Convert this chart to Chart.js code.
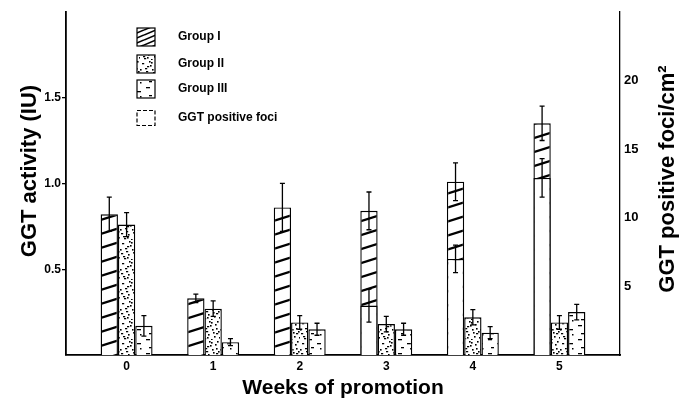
<!DOCTYPE html>
<html>
<head>
<meta charset="utf-8">
<title>GGT activity and GGT positive foci during promotion</title>
<script src="https://cdn.jsdelivr.net/npm/chart.js@4/dist/chart.umd.min.js"></script>
<style>
  html, body { margin: 0; padding: 0; background: #fff; }
  canvas { display: block; }
</style>
</head>
<body>
<canvas id="chart" width="686" height="404"></canvas>
<script>
// Weeks of promotion (x positions of the bar groups)
const weeks = [0, 1, 2, 3, 4, 5];

// GGT activity (IU), mean and error per group
const groupI      = [0.82, 0.33, 0.86, 0.84, 1.01, 1.35];
const groupIErr   = [0.10, 0.025, 0.14, 0.11, 0.11, 0.10];
const groupII     = [0.76, 0.27, 0.19, 0.18, 0.22, 0.19];
const groupIIErr  = [0.07, 0.045, 0.04, 0.045, 0.045, 0.04];
const groupIII    = [0.17, 0.075, 0.15, 0.15, 0.13, 0.25];
const groupIIIErr = [0.06, 0.02, 0.035, 0.035, 0.035, 0.045];

// GGT positive foci per cm2 (right axis)
const foci    = [null, null, null, 3.6, 7.0, 12.9];
const fociErr = [null, null, null, 1.2, 1.0, 1.4];

// Axis ticks and texts
const activityTicks = [0.5, 1.0, 1.5];
const fociTicks = [5, 10, 15, 20];
const legendLabels = ['Group I', 'Group II', 'Group III', 'GGT positive foci'];
const titleLeft = 'GGT activity (IU)';
const titleRight = 'GGT positive foci/cm\u00B2';
const titleBottom = 'Weeks of promotion';

const FONT = '"Liberation Sans", Arial, Helvetica, sans-serif';
const canvas = document.getElementById('chart');
const ctx = canvas.getContext('2d');

// ---- fill textures for the bars ----
function tile(w, h, paint) {
  const c = document.createElement('canvas');
  c.width = w; c.height = h;
  const g = c.getContext('2d');
  g.fillStyle = '#fff';
  g.fillRect(0, 0, w, h);
  g.fillStyle = '#000';
  g.strokeStyle = '#000';
  paint(g, w, h);
  return ctx.createPattern(c, 'repeat');
}

// diagonal hatching rising to the right
function hatchTile(w, h, lw) {
  return tile(w, h, (g) => {
    g.lineWidth = lw;
    for (const dy of [-h, 0, h]) {
      g.beginPath();
      g.moveTo(0, h + dy);
      g.lineTo(w, dy);
      g.stroke();
    }
  });
}
const hatch = hatchTile(44, 14, 2.2);
const hatchSmall = hatchTile(12, 5, 1.6);

// stipple of small dots
const stippleDots = [[2,3],[9,1],[15,4],[5,8],[12,9],[18,11],[1,13],[8,14],[14,16],[4,18],
                     [11,19],[17,1],[6,11],[16,8],[10,5],[3,16],[13,12],[19,17],[7,6],[0,9],
                     [7,17],[16,13],[11,2]];
const stipple = tile(20, 20, (g) => {
  stippleDots.forEach(([x, y], k) => {
    if (k % 3 === 0) g.fillRect(x, y, 2.2, 1.3);
    else g.fillRect(x, y, 1.6, 1.6);
  });
});

// sparse short dashes
const dashes = tile(18, 14, (g) => {
  g.fillRect(2, 3, 4, 1.3);
  g.fillRect(11, 7, 4, 1.3);
  g.fillRect(5, 11, 3, 1.3);
  g.fillRect(14, 12, 1.5, 1.5);
});

const toPoints = (vals) => weeks.map((w, i) => ({ x: w, y: vals[i] }));

// ---- error bars, legend and vertical axis titles ----
const extras = {
  id: 'extras',
  afterDatasetsDraw(chart) {
    const c = chart.ctx;
    c.save();
    c.strokeStyle = '#000';
    c.lineWidth = 1.3;
    chart.data.datasets.forEach((ds, di) => {
      const meta = chart.getDatasetMeta(di);
      const ys = chart.scales[ds.yAxisID];
      meta.data.forEach((bar, i) => {
        const v = ds.data[i].y, e = ds.errors[i];
        if (v == null || e == null) return;
        const top = ys.getPixelForValue(v + e);
        const bot = ys.getPixelForValue(v - e);
        c.beginPath();
        c.moveTo(bar.x, top); c.lineTo(bar.x, bot);
        c.moveTo(bar.x - 2.5, top); c.lineTo(bar.x + 2.5, top);
        c.moveTo(bar.x - 2.5, bot); c.lineTo(bar.x + 2.5, bot);
        c.stroke();
      });
    });
    c.restore();
  },
  afterDraw(chart) {
    const c = chart.ctx;
    c.save();
    // legend
    const fills = [hatchSmall, stipple, dashes, '#fff'];
    const rows = [37, 64, 89, 118];
    rows.forEach((y, k) => {
      const bx = 137, size = k === 3 ? 15 : 18;
      const by = y - size / 2;
      c.fillStyle = fills[k];
      c.fillRect(bx, by, 18, size);
      c.strokeStyle = '#000';
      c.lineWidth = 1.2;
      c.setLineDash(k === 3 ? [4, 2] : []);
      c.strokeRect(bx, by, 18, size);
      c.setLineDash([]);
      c.fillStyle = '#000';
      c.font = 'bold 12px ' + FONT;
      c.textAlign = 'left';
      c.textBaseline = 'middle';
      c.fillText(legendLabels[k], 178, y);
    });
    // vertical axis titles, both reading upward
    c.font = 'bold 22px ' + FONT;
    c.textAlign = 'center';
    c.textBaseline = 'middle';
    [[30, 171, titleLeft], [668, 179, titleRight]].forEach(([x, y, t]) => {
      c.save();
      c.translate(x, y);
      c.rotate(-Math.PI / 2);
      c.fillText(t, 0, 0);
      c.restore();
    });
    c.restore();
  }
};

const barStyle = { borderColor: '#000', borderWidth: 1.4 };

new Chart(ctx, {
  type: 'bar',
  data: {
    datasets: [
      { label: legendLabels[3], data: toPoints(foci), errors: fociErr, yAxisID: 'y2',
        stack: 'g1', order: 0, backgroundColor: '#fff', ...barStyle },
      { label: legendLabels[0], data: toPoints(groupI), errors: groupIErr, yAxisID: 'y',
        stack: 'g1', order: 1, backgroundColor: hatch, ...barStyle },
      { label: legendLabels[1], data: toPoints(groupII), errors: groupIIErr, yAxisID: 'y',
        stack: 'g2', order: 1, backgroundColor: stipple, ...barStyle },
      { label: legendLabels[2], data: toPoints(groupIII), errors: groupIIIErr, yAxisID: 'y',
        stack: 'g3', order: 1, backgroundColor: dashes, ...barStyle }
    ]
  },
  options: {
    responsive: false,
    devicePixelRatio: 1,
    animation: false,
    events: [],
    categoryPercentage: 0.6,
    barPercentage: 1.0,
    layout: { padding: { top: 7, left: 0, right: 0, bottom: 0 } },
    plugins: { legend: { display: false }, tooltip: { enabled: false } },
    scales: {
      x: {
        type: 'linear',
        min: -0.7,
        max: 5.7,
        offset: false,
        afterBuildTicks: (s) => { s.ticks = weeks.map(v => ({ value: v })); },
        afterFit: (s) => { s.height = 49; },
        grid: { display: false, drawTicks: false },
        border: { display: true, color: '#000', width: 1.8 },
        ticks: { color: '#000', padding: 4, font: { family: FONT, size: 12, weight: 'bold' },
                 maxRotation: 0, autoSkip: false, callback: (v) => String(v) },
        title: { display: true, text: titleBottom, color: '#000',
                 font: { family: FONT, size: 21, weight: 'bold' }, padding: { top: 0, bottom: 3 } }
      },
      y: {
        position: 'left',
        min: 0,
        max: 2.0,
        stacked: false,
        afterBuildTicks: (s) => { s.ticks = activityTicks.map(v => ({ value: v })); },
        afterFit: (s) => { s.width = 66; },
        grid: { display: true, drawOnChartArea: false, drawTicks: true, tickLength: 4, color: '#000', lineWidth: 1.3 },
        border: { display: true, color: '#000', width: 1.8 },
        ticks: { color: '#000', padding: 1, font: { family: FONT, size: 12, weight: 'bold' },
                 callback: (v) => Number(v).toFixed(1) }
      },
      y2: {
        position: 'right',
        min: 0,
        max: 25,
        stacked: false,
        afterBuildTicks: (s) => { s.ticks = fociTicks.map(v => ({ value: v })); },
        afterFit: (s) => { s.width = 66; },
        grid: { display: false, drawTicks: false },
        border: { display: true, color: '#000', width: 1.3 },
        ticks: { color: '#000', padding: 4, font: { family: FONT, size: 13, weight: 'bold' },
                 callback: (v) => String(v) }
      }
    }
  },
  plugins: [extras]
});
</script>
</body>
</html>
